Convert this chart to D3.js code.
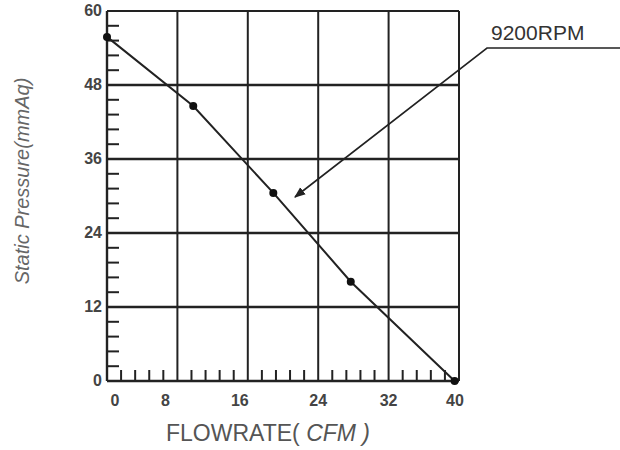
<!DOCTYPE html>
<html lang="en">
<head>
  <meta charset="utf-8">
  <title>Fan P-Q curve</title>
  <script src="https://cdn.jsdelivr.net/npm/d3@7"></script>
  <style>
    body { margin: 0; background: #fff; }
    svg { display: block; font-family: "Liberation Sans", Arial, sans-serif; }
  </style>
</head>
<body>
  <svg id="chart" width="620" height="450"></svg>
  <script>
    // data
    var flowrate = [0, 9.8, 18.9, 27.7, 39.5];      // CFM
    var pressure = [55.8, 44.6, 30.5, 16.1, 0];    // mmAq
    var xTicks = [0, 8, 16, 24, 32, 40];
    var yTicks = [0, 12, 24, 36, 48, 60];
    var curveLabel = "9200RPM";

    var svg = d3.select("#chart");
    var pLeft = 107, pRight = 459, pTop = 11, pBottom = 381;
    var ink = "#222";

    var x = d3.scaleLinear().domain([0, 40]).range([pLeft, pRight]);
    var y = d3.scaleLinear().domain([0, 60]).range([pBottom, pTop]);

    // grid lines
    var g = svg.append("g");
    g.selectAll(".vg").data(xTicks.slice(1)).enter().append("line")
      .attr("x1", d => x(d)).attr("x2", d => x(d))
      .attr("y1", pTop).attr("y2", pBottom)
      .attr("stroke", ink).attr("stroke-width", 2);
    g.selectAll(".hg").data(yTicks.slice(1)).enter().append("line")
      .attr("x1", pLeft).attr("x2", pRight)
      .attr("y1", d => y(d)).attr("y2", d => y(d))
      .attr("stroke", ink).attr("stroke-width", d => d == 60 ? 2 : 2.6);

    // minor ticks inside the frame
    var xMinor = d3.range(0, 40, 1.6).filter(d => d % 8 > 0.01);
    var yMinor = d3.range(0, 60, 2.4).filter(d => d % 12 > 0.01);
    g.selectAll(".xm").data(xMinor).enter().append("line")
      .attr("x1", d => x(d)).attr("x2", d => x(d))
      .attr("y1", pBottom).attr("y2", pBottom - 11)
      .attr("stroke", ink).attr("stroke-width", 2);
    g.selectAll(".ym").data(yMinor).enter().append("line")
      .attr("x1", pLeft).attr("x2", pLeft + 12)
      .attr("y1", d => y(d)).attr("y2", d => y(d))
      .attr("stroke", ink).attr("stroke-width", 2);

    // frame lines
    g.append("line").attr("x1", pLeft).attr("x2", pLeft).attr("y1", pTop).attr("y2", pBottom)
      .attr("stroke", ink).attr("stroke-width", 2.4);
    g.append("line").attr("x1", pLeft).attr("x2", pRight).attr("y1", pBottom).attr("y2", pBottom)
      .attr("stroke", ink).attr("stroke-width", 2.6);

    // tick labels
    var xNudge = {0: 8, 8: -12, 16: -8, 24: 0, 32: 0, 40: -4};
    svg.selectAll(".xl").data(xTicks).enter().append("text")
      .attr("x", d => x(d) + xNudge[d]).attr("y", 406)
      .attr("text-anchor", "middle")
      .attr("font-size", 16).attr("font-weight", "bold").attr("fill", "#444")
      .text(d => d);
    svg.selectAll(".yl").data(yTicks).enter().append("text")
      .attr("x", 102).attr("y", d => y(d) + 5)
      .attr("text-anchor", "end")
      .attr("font-size", 16).attr("font-weight", "bold").attr("fill", "#444")
      .text(d => d);

    // axis titles
    var xt = svg.append("text").attr("x", 268).attr("y", 441)
      .attr("text-anchor", "middle").attr("font-size", 23).attr("fill", "#555");
    xt.append("tspan").text("FLOWRATE( ");
    xt.append("tspan").attr("font-style", "italic").text("CFM )");
    svg.append("text")
      .attr("transform", "translate(29,181) rotate(-90)")
      .attr("text-anchor", "middle").attr("font-size", 20)
      .attr("font-style", "italic").attr("fill", "#666")
      .text("Static Pressure(mmAq)");

    // curve
    var pts = flowrate.map((f, i) => [f, pressure[i]]);
    svg.append("path")
      .attr("d", d3.line().x(d => x(d[0])).y(d => y(d[1]))(pts))
      .attr("fill", "none").attr("stroke", ink).attr("stroke-width", 2);
    svg.selectAll(".pt").data(pts).enter().append("circle")
      .attr("cx", d => x(d[0])).attr("cy", d => y(d[1])).attr("r", 4)
      .attr("fill", "#111");

    // callout
    svg.append("defs").append("marker")
      .attr("id", "arr").attr("viewBox", "0 0 10 10")
      .attr("refX", 9).attr("refY", 5)
      .attr("markerWidth", 7).attr("markerHeight", 7)
      .attr("orient", "auto")
      .append("path").attr("d", "M0,1 L10,5 L0,9 Z").attr("fill", ink);
    svg.append("polyline")
      .attr("points", "620,48 487,48 295,197")
      .attr("fill", "none").attr("stroke", ink).attr("stroke-width", 1.6)
      .attr("marker-end", "url(#arr)");
    svg.append("text").attr("x", 491).attr("y", 40)
      .attr("font-size", 21).attr("fill", "#333")
      .text(curveLabel);
  </script>
</body>
</html>
